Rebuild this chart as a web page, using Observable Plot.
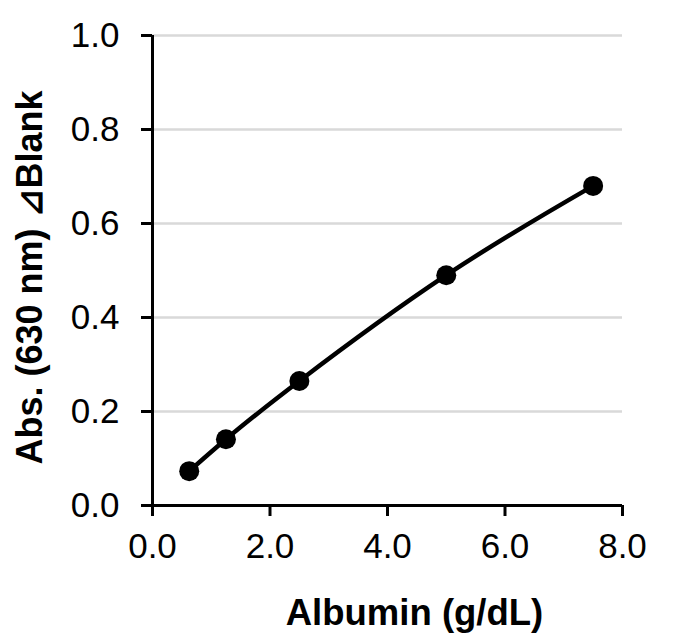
<!DOCTYPE html>
<html><head>
<meta charset="utf-8">
<script src="https://cdn.jsdelivr.net/npm/d3@7"></script>
<script src="https://cdn.jsdelivr.net/npm/@observablehq/plot@0.6"></script>
<style>
body{margin:0;background:#fff;}
svg{font-family:"Liberation Sans",Arial,sans-serif;}
</style>
</head><body><div id="chart"></div>
<script>
const albumin = [0.625, 1.25, 2.5, 5, 7.5];
const absorbance = [0.073, 0.141, 0.265, 0.49, 0.68];
const xTicks = [0, 2, 4, 6, 8];
const yTicks = [0, 0.2, 0.4, 0.6, 0.8, 1.0];
const xTitle = "Albumin (g/dL)";
const yTitle = "Abs. (630 nm) ⊿Blank";

const data = albumin.map((x, i) => ({x, y: absorbance[i]}));

const chart = Plot.plot({
  width: 700, height: 640,
  marginLeft: 152, marginRight: 78, marginTop: 35, marginBottom: 135,
  style: {fontFamily: '"Liberation Sans", Arial, sans-serif', fontSize: "35px", color: "#000", background: "#fff", overflow: "visible"},
  x: {domain: [0, 8]},
  y: {domain: [0, 1]},
  marks: [
    Plot.ruleY(yTicks.filter(d => d > 0), {stroke: "#d9d9d9", strokeWidth: 2.5}),
    Plot.axisY({ticks: yTicks, tickFormat: d => d.toFixed(1), tickSize: 11, tickPadding: 22, strokeWidth: 3, label: null, fontSize: 35}),
    Plot.axisX({ticks: xTicks, tickFormat: d => d.toFixed(1), tickSize: 11, tickPadding: 17, strokeWidth: 3, label: null, fontSize: 35}),
    Plot.ruleX([0], {strokeWidth: 3}),
    Plot.ruleY([0], {strokeWidth: 3}),
    Plot.line(data, {x: "x", y: "y", curve: "natural", strokeWidth: 4.5, stroke: "#000"}),
    Plot.dot(data, {x: "x", y: "y", r: 10, fill: "#000", stroke: null}),
    Plot.text([xTitle], {text: d => d, frameAnchor: "bottom", textAnchor: "middle", dy: 119, dx: 27, fontWeight: "bold", fontSize: 36.5}),
    Plot.text([yTitle], {text: d => d, frameAnchor: "left", textAnchor: "middle", rotate: -90, dx: -122, dy: 7, fontWeight: "bold", fontSize: 36})
  ]
});
document.getElementById("chart").appendChild(chart);
</script>
</body></html>
